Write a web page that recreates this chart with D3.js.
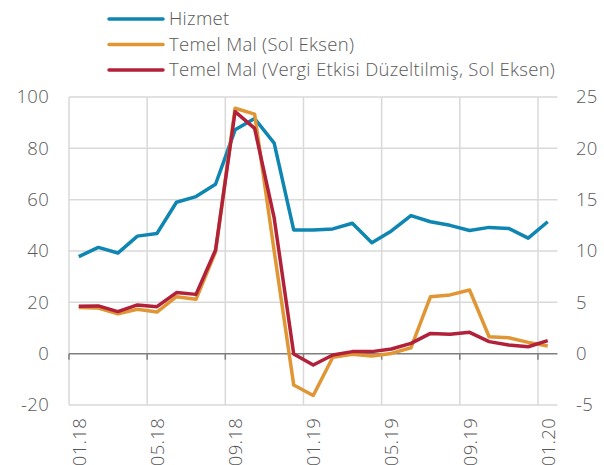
<!DOCTYPE html>
<html>
<head>
<meta charset="utf-8">
<script src="https://cdn.jsdelivr.net/npm/d3@7"></script>
<style>
  body { margin: 0; background: #fff; }
  text { font-family: "Open Sans", Lato, sans-serif; fill: #595959; font-weight: 300; letter-spacing: 0.3px; }
</style>
</head>
<body>
<svg id="viz" width="604" height="465"></svg>
<script>
// month labels, 01.18 .. 01.20
const months = ["01.18","02.18","03.18","04.18","05.18","06.18","07.18","08.18","09.18","10.18","11.18","12.18",
                "01.19","02.19","03.19","04.19","05.19","06.19","07.19","08.19","09.19","10.19","11.19","12.19","01.20"]
// Hizmet (right axis)
const hizmet = [9.45, 10.35, 9.8, 11.45, 11.7, 14.75, 15.3, 16.5, 21.8, 22.9, 20.5, 12.05,
                12.05, 12.15, 12.7, 10.8, 11.95, 13.45, 12.85, 12.5, 12.0, 12.3, 12.2, 11.25, 12.85]
// Temel Mal (left axis)
const temelMal = [18.0, 17.8, 15.5, 17.3, 16.2, 22.2, 21.2, 39.7, 95.6, 93.3, 40.0, -12.2,
                  -16.3, -1.4, -0.2, -0.9, 0.1, 2.3, 22.2, 22.9, 24.8, 6.6, 6.2, 4.4, 3.0]
// Temel Mal, vergi etkisi duzeltilmis (left axis)
const temelMalVed = [18.5, 18.6, 16.4, 19.0, 18.3, 23.8, 23.1, 40.4, 94.3, 87.8, 52.9, -0.1,
                     -4.4, -0.5, 0.8, 0.8, 1.8, 4.0, 7.9, 7.6, 8.3, 4.7, 3.4, 2.7, 5.1]
const leftTicks = [-20, 0, 20, 40, 60, 80, 100]
const rightTicks = [-5, 0, 5, 10, 15, 20, 25]

const series = [
  {name: "Hizmet", values: hizmet, axis: "right", color: "#0f86b2"},
  {name: "Temel Mal (Sol Eksen)", values: temelMal, axis: "left", color: "#e09634"},
  {name: "Temel Mal (Vergi Etkisi Düzeltilmiş, Sol Eksen)", values: temelMalVed, axis: "left", color: "#b1213a"}
]

const PLOT = {left: 69, right: 557.5, top: 97, bottom: 405}
const FONT = 18.5
const svg = d3.select("svg#viz")

const x = d3.scaleBand().domain(months).range([PLOT.left, PLOT.right])
const yL = d3.scaleLinear().domain([-20, 100]).range([PLOT.bottom, PLOT.top])
const yR = d3.scaleLinear().domain([-5, 25]).range([PLOT.bottom, PLOT.top])

const grid = svg.append("g").attr("class", "grid")
// horizontal gridlines
grid.selectAll("line.h").data(leftTicks.filter(d => d != 0))
  .join("line")
  .attr("x1", PLOT.left).attr("x2", PLOT.right)
  .attr("y1", d => yL(d)).attr("y2", d => yL(d))
  .attr("stroke", "#d9d9d9").attr("stroke-width", 1.5)
// vertical gridlines every 4 months (at band start)
const vticks = months.filter((d, i) => i % 4 == 0)
grid.selectAll("line.v").data(vticks)
  .join("line")
  .attr("x1", d => x(d)).attr("x2", d => x(d))
  .attr("y1", PLOT.top).attr("y2", PLOT.bottom)
  .attr("stroke", "#d9d9d9").attr("stroke-width", 1.5)

// zero axis line with tick marks
const zero = svg.append("g").attr("class", "zero")
zero.append("line")
  .attr("x1", PLOT.left).attr("x2", PLOT.right)
  .attr("y1", yL(0)).attr("y2", yL(0))
  .attr("stroke", "#7f7f7f").attr("stroke-width", 1.5)
zero.selectAll("line.tick").data(vticks)
  .join("line")
  .attr("x1", d => x(d)).attr("x2", d => x(d))
  .attr("y1", yL(0)).attr("y2", yL(0) + 6)
  .attr("stroke", "#7f7f7f").attr("stroke-width", 1.5)

// axis labels
svg.append("g").selectAll("text").data(leftTicks)
  .join("text")
  .attr("x", 49).attr("y", d => yL(d))
  .attr("dy", "0.35em")
  .attr("text-anchor", "end")
  .attr("font-size", FONT)
  .text(d => d)
svg.append("g").selectAll("text").data(rightTicks)
  .join("text")
  .attr("x", 576).attr("y", d => yR(d))
  .attr("dy", "0.35em")
  .attr("text-anchor", "start")
  .attr("font-size", FONT)
  .text(d => d)
svg.append("g").selectAll("text").data(vticks)
  .join("text")
  .attr("transform", d => `translate(${x(d) + x.bandwidth() / 2 + 7},418) rotate(-90)`)
  .attr("text-anchor", "end")
  .attr("font-size", FONT)
  .text(d => d)

// lines
const lines = svg.append("g").attr("class", "lines")
series.forEach(s => {
  const yS = s.axis == "left" ? yL : yR
  const line = d3.line()
    .x((d, i) => x(months[i]) + x.bandwidth() / 2)
    .y(d => yS(d))
  lines.append("path")
    .datum(s.values)
    .attr("d", line)
    .attr("fill", "none")
    .attr("stroke", s.color)
    .attr("stroke-width", 3.5)
    .attr("stroke-linejoin", "round")
})

// legend
const legend = svg.append("g").attr("class", "legend")
const leg = legend.selectAll("g").data(series)
  .join("g")
  .attr("transform", (d, i) => `translate(109,${19 + i * 25.5})`)
leg.append("line")
  .attr("x1", 0).attr("x2", 54)
  .attr("stroke", d => d.color)
  .attr("stroke-width", 3.5)
  .attr("stroke-linecap", "round")
leg.append("text")
  .attr("x", 60).attr("dy", "0.35em")
  .attr("font-size", FONT)
  .text(d => d.name)
</script>
</body>
</html>
